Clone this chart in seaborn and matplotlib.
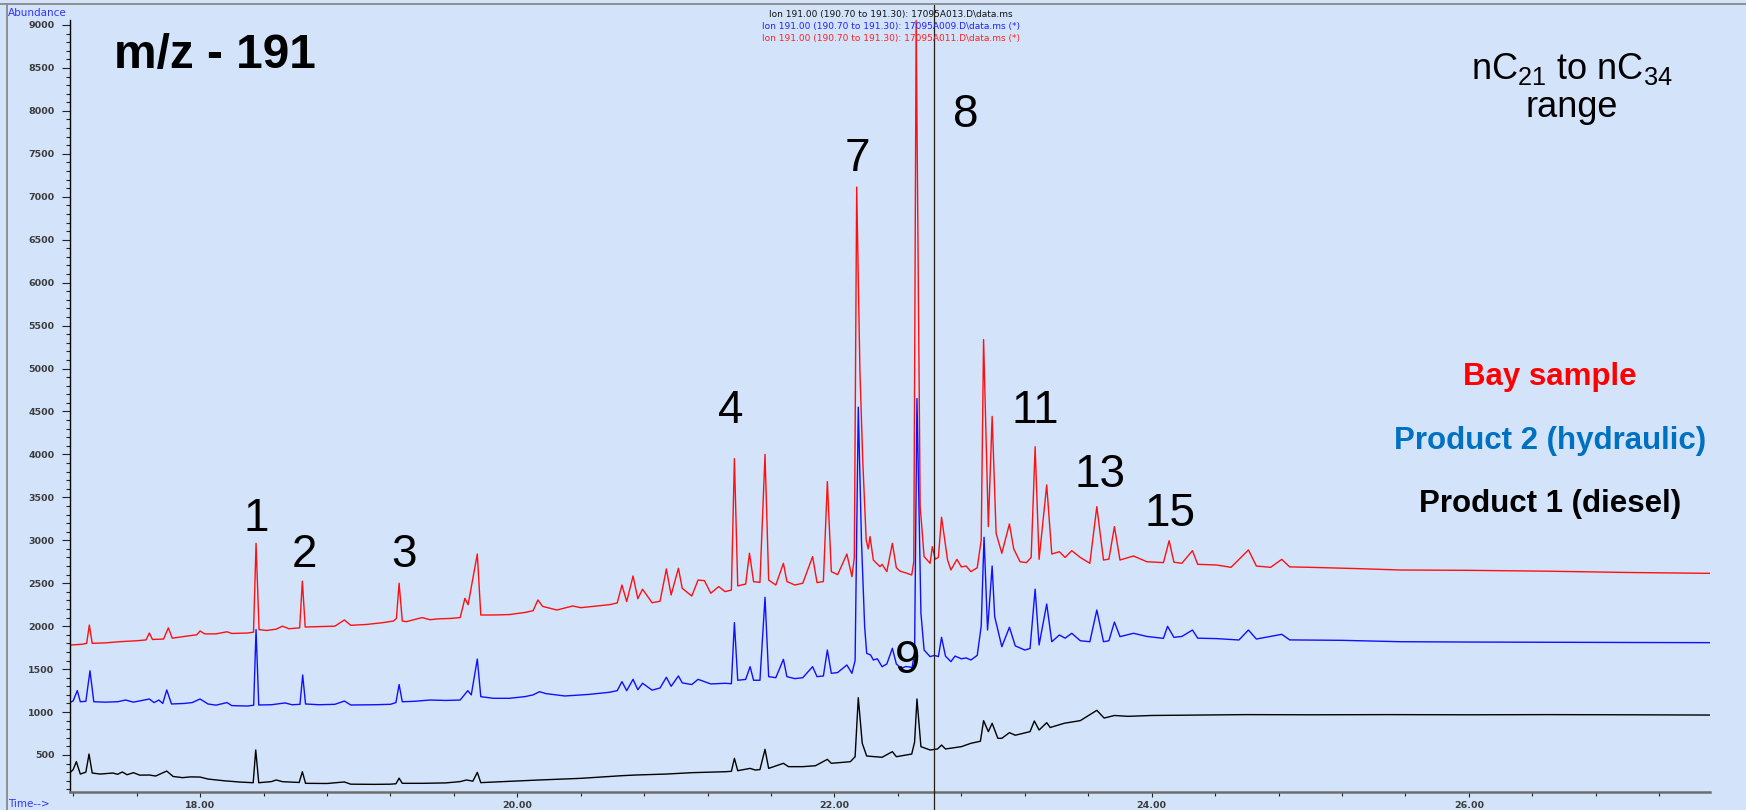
import matplotlib
matplotlib.use("Agg")
import matplotlib.pyplot as plt
from matplotlib.lines import Line2D
from matplotlib.ticker import MultipleLocator, FixedLocator, FormatStrFormatter
import pandas as pd
import seaborn as sns

# Digitised m/z 191 chromatogram vertices: (retention time [min], abundance)
bay_trace = [
    (17.18, 1780), (17.26, 1790), (17.285, 1800), (17.302, 2013), (17.32, 1800), (17.40, 1805),
    (17.50, 1820), (17.60, 1830), (17.66, 1840), (17.68, 1920), (17.70, 1845), (17.77, 1850),
    (17.80, 1980), (17.825, 1860), (17.90, 1880), (17.98, 1900), (18.00, 1944), (18.03, 1910),
    (18.10, 1910), (18.17, 1935), (18.20, 1915), (18.30, 1920), (18.337, 1930), (18.353, 2964),
    (18.372, 1960), (18.42, 1950), (18.48, 1965), (18.52, 2000), (18.56, 1970), (18.628, 1980),
    (18.645, 2524), (18.663, 1990), (18.75, 1995), (18.85, 2000), (18.91, 2072), (18.95, 2010),
    (19.05, 2020), (19.15, 2040), (19.22, 2060), (19.238, 2090), (19.255, 2500), (19.275, 2060),
    (19.30, 2052), (19.40, 2100), (19.45, 2075), (19.50, 2085), (19.58, 2090), (19.64, 2100),
    (19.67, 2324), (19.69, 2250), (19.748, 2840), (19.77, 2130), (19.85, 2130), (19.95, 2135),
    (20.05, 2160), (20.10, 2180), (20.13, 2305), (20.16, 2230), (20.25, 2188), (20.35, 2235),
    (20.40, 2215), (20.50, 2235), (20.58, 2250), (20.63, 2270), (20.66, 2479), (20.69, 2286),
    (20.73, 2584), (20.76, 2320), (20.79, 2430), (20.85, 2273), (20.90, 2290), (20.94, 2666),
    (20.97, 2363), (21.016, 2674), (21.04, 2441), (21.10, 2351), (21.14, 2537), (21.18, 2530),
    (21.22, 2383), (21.27, 2461), (21.31, 2402), (21.35, 2420), (21.369, 3950), (21.39, 2469),
    (21.44, 2490), (21.464, 2849), (21.49, 2518), (21.53, 2510), (21.562, 4000), (21.585, 2537),
    (21.63, 2479), (21.678, 2732), (21.70, 2520), (21.75, 2479), (21.80, 2500), (21.862, 2810),
    (21.89, 2507), (21.93, 2520), (21.955, 3683), (21.98, 2635), (22.02, 2600), (22.078, 2840),
    (22.11, 2576), (22.125, 2800), (22.14, 7113), (22.16, 5000), (22.178, 3935), (22.20, 3000),
    (22.213, 2900), (22.224, 3043), (22.245, 2770), (22.287, 2693), (22.30, 2720), (22.33, 2635),
    (22.365, 2965), (22.39, 2680), (22.414, 2640), (22.45, 2620), (22.487, 2596), (22.50, 2750),
    (22.515, 9050), (22.54, 3400), (22.565, 2810), (22.603, 2732), (22.617, 2926), (22.635, 2780),
    (22.655, 2800), (22.675, 3268), (22.713, 2770), (22.734, 2654), (22.772, 2778), (22.80, 2690),
    (22.83, 2700), (22.86, 2635), (22.90, 2680), (22.925, 3000), (22.94, 5337), (22.97, 3159),
    (22.994, 4442), (23.019, 3082), (23.055, 2849), (23.103, 3190), (23.13, 2900), (23.17, 2750),
    (23.21, 2740), (23.24, 2800), (23.265, 4090), (23.29, 2778), (23.338, 3644), (23.37, 2840),
    (23.418, 2867), (23.454, 2800), (23.496, 2879), (23.55, 2800), (23.61, 2732), (23.654, 3392),
    (23.696, 2770), (23.73, 2780), (23.765, 3159), (23.80, 2770), (23.885, 2817), (23.97, 2750),
    (24.074, 2740), (24.11, 2995), (24.14, 2745), (24.19, 2732), (24.257, 2879), (24.29, 2720),
    (24.41, 2712), (24.50, 2685), (24.61, 2887), (24.66, 2700), (24.75, 2685), (24.82, 2778),
    (24.87, 2690), (25.0, 2685), (25.3, 2670), (25.566, 2654), (26.0, 2650), (26.5, 2640),
    (27.0, 2625), (27.52, 2615),
]

hydraulic_trace = [
    (17.18, 1110), (17.20, 1130), (17.226, 1250), (17.245, 1120), (17.28, 1125), (17.306, 1480),
    (17.33, 1120), (17.40, 1115), (17.48, 1120), (17.53, 1140), (17.58, 1115), (17.68, 1152),
    (17.71, 1110), (17.74, 1140), (17.765, 1100), (17.79, 1257), (17.82, 1094), (17.90, 1100),
    (17.95, 1110), (18.00, 1152), (18.05, 1094), (18.10, 1080), (18.17, 1110), (18.20, 1075),
    (18.30, 1070), (18.338, 1080), (18.353, 1960), (18.37, 1082), (18.45, 1085), (18.536, 1106),
    (18.58, 1085), (18.63, 1090), (18.647, 1431), (18.665, 1094), (18.75, 1085), (18.85, 1090),
    (18.91, 1128), (18.95, 1082), (19.10, 1085), (19.20, 1090), (19.235, 1110), (19.255, 1320),
    (19.275, 1120), (19.35, 1125), (19.45, 1140), (19.55, 1135), (19.64, 1140), (19.688, 1249),
    (19.71, 1200), (19.748, 1617), (19.77, 1179), (19.85, 1160), (19.95, 1160), (20.05, 1180),
    (20.10, 1200), (20.14, 1237), (20.18, 1215), (20.30, 1187), (20.45, 1205), (20.58, 1230),
    (20.63, 1249), (20.66, 1354), (20.69, 1249), (20.73, 1381), (20.76, 1260), (20.79, 1335),
    (20.85, 1255), (20.90, 1280), (20.94, 1405), (20.97, 1300), (21.016, 1420), (21.04, 1340),
    (21.10, 1320), (21.14, 1381), (21.22, 1327), (21.31, 1335), (21.35, 1330), (21.369, 2041),
    (21.39, 1370), (21.44, 1380), (21.468, 1528), (21.49, 1370), (21.53, 1370), (21.562, 2336),
    (21.585, 1412), (21.63, 1400), (21.678, 1614), (21.70, 1412), (21.75, 1389), (21.80, 1400),
    (21.862, 1528), (21.89, 1412), (21.93, 1420), (21.955, 1722), (21.98, 1451), (22.02, 1460),
    (22.078, 1548), (22.11, 1451), (22.13, 1600), (22.15, 4550), (22.17, 3000), (22.19, 2000),
    (22.203, 1684), (22.228, 1664), (22.245, 1606), (22.27, 1620), (22.30, 1528), (22.33, 1560),
    (22.365, 1742), (22.39, 1560), (22.42, 1509), (22.45, 1530), (22.49, 1520), (22.505, 1700),
    (22.52, 4650), (22.545, 2150), (22.565, 1722), (22.603, 1645), (22.63, 1660), (22.655, 1645),
    (22.675, 1870), (22.70, 1650), (22.734, 1587), (22.76, 1652), (22.80, 1620), (22.83, 1630),
    (22.86, 1606), (22.90, 1660), (22.925, 2000), (22.943, 3035), (22.965, 1955), (22.994, 2700),
    (23.01, 2111), (23.055, 1761), (23.103, 1987), (23.14, 1770), (23.20, 1722), (23.233, 1740),
    (23.265, 2430), (23.29, 1781), (23.338, 2258), (23.37, 1819), (23.418, 1897), (23.454, 1860),
    (23.496, 1917), (23.55, 1830), (23.61, 1819), (23.654, 2188), (23.696, 1819), (23.73, 1830),
    (23.765, 2048), (23.80, 1878), (23.885, 1917), (23.97, 1880), (24.074, 1858), (24.10, 1998),
    (24.14, 1870), (24.19, 1880), (24.257, 1955), (24.29, 1860), (24.41, 1855), (24.55, 1839),
    (24.61, 1955), (24.66, 1850), (24.82, 1905), (24.87, 1840), (25.2, 1835), (25.566, 1819),
    (26.0, 1815), (26.5, 1812), (27.0, 1810), (27.52, 1808),
]

diesel_trace = [
    (17.18, 294), (17.20, 330), (17.22, 422), (17.245, 278), (17.28, 300), (17.30, 511),
    (17.32, 290), (17.37, 278), (17.45, 290), (17.48, 275), (17.51, 302), (17.54, 270),
    (17.58, 294), (17.62, 265), (17.68, 267), (17.72, 255), (17.79, 313), (17.83, 250),
    (17.89, 236), (17.94, 245), (18.00, 243), (18.05, 220), (18.15, 200), (18.25, 185),
    (18.335, 177), (18.351, 558), (18.37, 177), (18.45, 190), (18.48, 209), (18.52, 189),
    (18.625, 180), (18.645, 305), (18.665, 170), (18.80, 168), (18.91, 186), (18.95, 160),
    (19.10, 158), (19.20, 160), (19.235, 165), (19.255, 230), (19.275, 170), (19.40, 170),
    (19.55, 175), (19.64, 190), (19.68, 209), (19.72, 195), (19.748, 298), (19.77, 178),
    (19.90, 189), (20.14, 209), (20.40, 228), (20.66, 259), (20.75, 267), (20.94, 278),
    (21.10, 294), (21.31, 305), (21.35, 310), (21.369, 461), (21.39, 317), (21.468, 344),
    (21.50, 325), (21.53, 330), (21.562, 566), (21.585, 344), (21.678, 403), (21.71, 364),
    (21.80, 364), (21.88, 375), (21.955, 449), (21.98, 403), (22.10, 422), (22.13, 480),
    (22.15, 1167), (22.175, 636), (22.203, 488), (22.30, 473), (22.365, 539), (22.39, 480),
    (22.487, 511), (22.505, 650), (22.52, 1152), (22.545, 597), (22.603, 558), (22.65, 570),
    (22.675, 616), (22.70, 570), (22.80, 597), (22.86, 636), (22.92, 660), (22.94, 900),
    (22.97, 772), (22.994, 869), (23.03, 694), (23.055, 694), (23.103, 760), (23.14, 730),
    (23.233, 772), (23.26, 896), (23.29, 791), (23.338, 876), (23.36, 820), (23.45, 870),
    (23.55, 900), (23.654, 1020), (23.70, 930), (23.765, 960), (23.85, 950), (24.0, 960),
    (24.3, 965), (24.6, 970), (25.0, 968), (25.5, 970), (26.0, 968), (26.5, 970),
    (27.0, 968), (27.52, 965),
]

# Hopane / terpane peak numbers: label text, retention time, baseline abundance
peak_labels = ["1", "2", "3", "4", "7", "8", "9", "11", "13", "15"]
peak_label_time = [18.353, 18.656, 19.286, 21.348, 22.143, 22.83, 22.458, 23.265, 23.675, 24.116]
peak_label_abund = [3108, 2689, 2689, 4366, 7300, 7812, 1455, 4366, 3620, 3166]

sample_names = ["Bay sample", "Product 2 (hydraulic)", "Product 1 (diesel)"]
header_lines = [
    "Ion 191.00 (190.70 to 191.30): 17095A013.D\\data.ms",
    "Ion 191.00 (190.70 to 191.30): 17095A009.D\\data.ms (*)",
    "Ion 191.00 (190.70 to 191.30): 17095A011.D\\data.ms (*)",
]
x_major_ticks = [18, 20, 22, 24, 26]
cursor_time = 22.63

sns.set_style("ticks")
plt.rcParams["font.family"] = ["Liberation Sans", "DejaVu Sans"]
plt.rcParams["text.color"] = "#000000"
plt.rcParams["mathtext.fontset"] = "custom"
plt.rcParams["mathtext.rm"] = "Liberation Sans"
plt.rcParams["mathtext.it"] = "Liberation Sans:italic"

BG = "#D2E3FA"
W, H = 1746, 810
fig = plt.figure(figsize=(W / 100, H / 100), dpi=100, facecolor=BG)


def fx(px):
    return px / W


def fy(py):
    return 1 - py / H


ax = fig.add_axes([fx(70), fy(792), fx(1710) - fx(70), fy(20) - fy(792)])
ax.set_facecolor(BG)

frames = []
for name, trace in zip(sample_names, [bay_trace, hydraulic_trace, diesel_trace]):
    df = pd.DataFrame(trace, columns=["time", "abundance"])
    df["sample"] = name
    frames.append(df)
data = pd.concat(frames, ignore_index=True)

trace_colors = {"Bay sample": "#FF1010", "Product 2 (hydraulic)": "#1010FF",
                "Product 1 (diesel)": "#000000"}
for name in sample_names:
    sns.lineplot(data=data[data["sample"] == name], x="time", y="abundance",
                 color=trace_colors[name], linewidth=1.0, estimator=None,
                 sort=False, ax=ax, legend=False)

ax.set_xlim(17.18, 27.52)
ax.set_ylim(69, 9058)
ax.set_xlabel("")
ax.set_ylabel("")

# axis styling in the style of a ChemStation window
for side in ("top", "right"):
    ax.spines[side].set_visible(False)
ax.spines["left"].set_color("#000000")
ax.spines["left"].set_linewidth(1.0)
ax.spines["bottom"].set_color("#6e6e6e")
ax.spines["bottom"].set_linewidth(1.8)

ax.xaxis.set_major_locator(FixedLocator(x_major_ticks))
ax.xaxis.set_major_formatter(FormatStrFormatter("%.2f"))
ax.xaxis.set_minor_locator(MultipleLocator(0.4))
ax.yaxis.set_major_locator(MultipleLocator(500))
ax.yaxis.set_minor_locator(MultipleLocator(100))
ax.yaxis.set_major_formatter(FormatStrFormatter("%d"))

tick_font = dict(family="DejaVu Sans", weight="bold", size=6.8)
ax.tick_params(axis="x", which="major", direction="out", length=3.8, width=0.8,
               color="#222222", pad=2.5, labelcolor="#3c3c3c")
ax.tick_params(axis="x", which="minor", direction="out", length=2.9, width=0.8,
               color="#222222")
ax.tick_params(axis="y", which="major", direction="out", length=5.8, width=0.8,
               color="#222222", pad=5.5, labelcolor="#3c3c3c")
ax.tick_params(axis="y", which="minor", direction="out", length=2.9, width=0.8,
               color="#222222")
for lab in ax.get_xticklabels() + ax.get_yticklabels():
    lab.set_fontfamily(tick_font["family"])
    lab.set_fontweight(tick_font["weight"])
    lab.set_fontsize(tick_font["size"])

# retention-time cursor
ax.axvline(cursor_time, ymin=-0.024, ymax=1.02, color="#2a1f14", linewidth=0.9,
           clip_on=False, zorder=5)

# peak numbers
for lab, t, a in zip(peak_labels, peak_label_time, peak_label_abund):
    ax.text(t, a, lab, ha="center", va="baseline", fontsize=33, color="#000000",
            family="Liberation Sans", zorder=6)

# window frame
fig.add_artist(Line2D([0, 1], [fy(4), fy(4)], transform=fig.transFigure,
                      color="#8f8f8f", linewidth=1.4))
fig.add_artist(Line2D([fx(7), fx(7)], [0, fy(4)], transform=fig.transFigure,
                      color="#8f8f8f", linewidth=1.4))

fig.text(fx(8), fy(13), "Abundance", ha="left", va="center", fontsize=7.5,
         family="DejaVu Sans", color="#3333FF")
fig.text(fx(8), fy(804), "Time-->", ha="left", va="center", fontsize=7.5,
         family="DejaVu Sans", color="#3333FF")

header_colors = ["#111111", "#2222FF", "#FF2222"]
for i, (line, c) in enumerate(zip(header_lines, header_colors)):
    fig.text(fx(891), fy(15 + 12 * i), line, ha="center", va="center", fontsize=6.5,
             family="DejaVu Sans", color=c)

fig.text(fx(215), fy(68), "m/z - 191", ha="center", va="baseline", fontsize=34.5,
         weight="bold", family="Liberation Sans", color="#000000")

fig.text(fx(1572), fy(79), r"nC$_{\mathregular{21}}$ to nC$_{\mathregular{34}}$",
         ha="center", va="baseline", fontsize=26, family="Liberation Sans",
         color="#000000")
fig.text(fx(1572), fy(117), "range", ha="center", va="baseline", fontsize=26,
         family="Liberation Sans", color="#000000")

legend_colors = ["#FF0000", "#0070C0", "#000000"]
legend_baselines = [385, 449, 512]
for name, c, yb in zip(sample_names, legend_colors, legend_baselines):
    fig.text(fx(1550), fy(yb), name, ha="center", va="baseline", fontsize=22.5,
             weight="bold", family="Liberation Sans", color=c)

fig.savefig("out.png", dpi=100, facecolor=BG)
